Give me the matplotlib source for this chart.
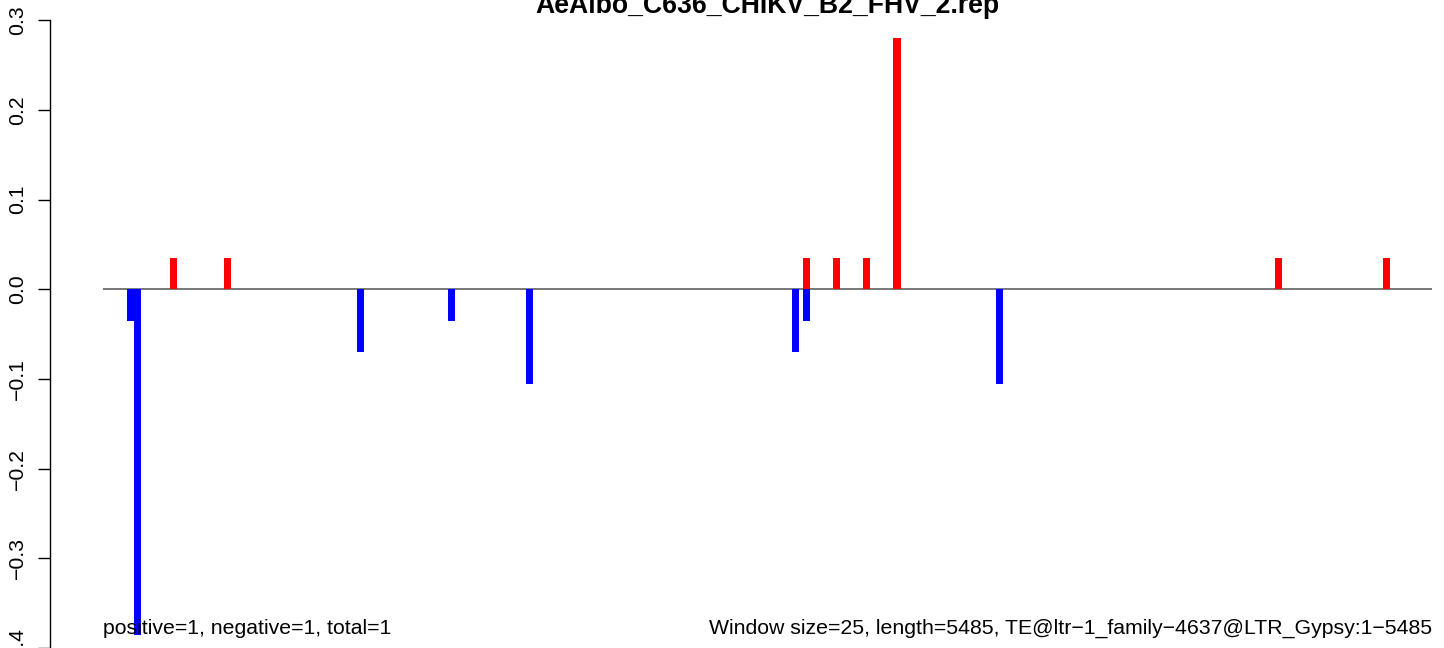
import matplotlib
matplotlib.use("Agg")
import matplotlib.pyplot as plt

plt.rcParams['font.family'] = ['Liberation Sans', 'DejaVu Sans']

# window positions (bp) and normalised scores
pos_pos = [291, 514, 2905, 3029, 3153, 3277, 4851, 5297]
pos_val = [0.035, 0.035, 0.035, 0.035, 0.035, 0.28, 0.035, 0.035]
neg_pos = [113, 142, 1063, 1438, 1760, 2858, 2905, 3702]
neg_val = [-0.035, -0.385, -0.07, -0.035, -0.105, -0.07, -0.035, -0.105]

title = "AeAlbo_C636_CHIKV_B2_FHV_2.rep"
seq_len = 5485
win = 25
left_note = "positive=1, negative=1, total=1"
right_note = "Window size=%d, length=%d, TE@ltr\u22121_family\u22124637@LTR_Gypsy:1\u2212%d" % (win, seq_len, seq_len)
yticks = [-0.4, -0.3, -0.2, -0.1, 0.0, 0.1, 0.2, 0.3]

W, H = 1444, 648
fig = plt.figure(figsize=(W / 100, H / 100), dpi=100)
x0, x1 = 103, 1432
ax = fig.add_axes([x0 / W, 0, (x1 - x0) / W, 1])

ax.set_xlim(0, seq_len)
ax.set_ylim(-(H - 290.5) / 900, 290.5 / 900)

ax.axhline(0, color='#777777', lw=1.4, zorder=1)
ax.bar(neg_pos, neg_val, width=29, color='blue', zorder=2)
ax.bar(pos_pos, pos_val, width=29, color='red', zorder=2)

for s in ['top', 'right', 'bottom']:
    ax.spines[s].set_visible(False)
ax.spines['left'].set_position(('axes', (50 - x0) / (x1 - x0)))
ax.spines['left'].set_bounds(-0.4, 0.3)
ax.spines['left'].set_linewidth(1.0)
ax.set_xticks([])
ax.set_yticks(yticks)
ax.set_yticklabels([("%.1f" % v).replace('-', '\u2212') for v in yticks],
                   rotation=90, va='center')
ax.tick_params(axis='y', length=8.6, width=1.0, pad=8, labelsize=15.3)

ax.text(0, -(636 - 290.5) / 900, left_note, ha='left', va='baseline', fontsize=15.3)
ax.text(seq_len, -(636 - 290.5) / 900, right_note, ha='right', va='baseline', fontsize=15.3)

fig.text((x0 + x1) / 2 / W, 1 - 13 / H, title, ha='center', va='baseline',
         fontsize=19.2, fontweight='bold')

fig.savefig("out.png", dpi=100)
